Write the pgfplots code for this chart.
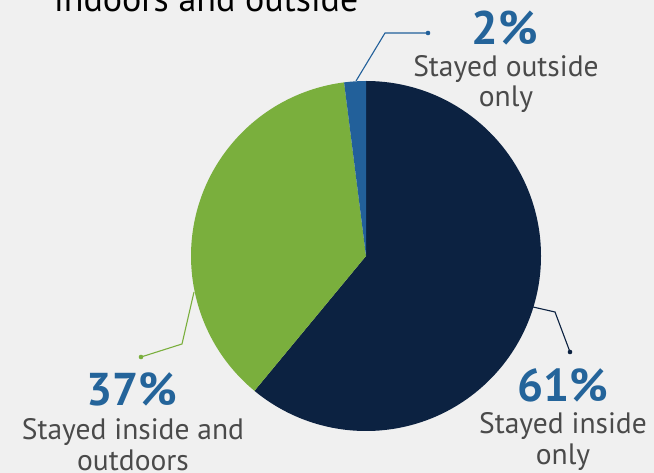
\documentclass[border=0pt]{standalone}
\usepackage{pgfplots}
\pgfplotsset{compat=1.18}
\usepackage{fontspec}
\setmainfont{PT Sans}

\definecolor{bg}{HTML}{F0F0F0}
\definecolor{navy}{HTML}{0C2241}
\definecolor{leaf}{HTML}{7AAF3D}
\definecolor{steel}{HTML}{22609A}
\definecolor{pct}{HTML}{24649A}
\definecolor{txt}{HTML}{4A4A4A}

% shares (percent), clockwise from the top
\def\inside{61}
\def\both{37}
\def\outside{2}

\pgfmathsetmacro\aA{90-3.6*\inside}
\pgfmathsetmacro\aB{\aA-3.6*\both}
\pgfmathsetmacro\aC{\aB-3.6*\outside}

\begin{document}
\begin{tikzpicture}
\useasboundingbox (0,0) rectangle (654bp,473bp);
\fill[bg] (0,0) rectangle (654bp,473bp);
\begin{axis}[
    at={(0,0)}, anchor=south west,
    width=654bp, height=473bp, scale only axis,
    xmin=0, xmax=654, ymin=0, ymax=473,
    hide axis, clip=false,
    ]
    % slices
    \fill[navy] (axis cs:366,217) -- ++(90:175bp)
        arc[start angle=90, end angle=\aA, radius=175bp] -- cycle;
    \fill[leaf] (axis cs:366,217) -- ++(\aA:175bp)
        arc[start angle=\aA, end angle=\aB, radius=175bp] -- cycle;
    \fill[steel] (axis cs:366,217) -- ++(\aB:175bp)
        arc[start angle=\aB, end angle=\aC, radius=175bp] -- cycle;

    % leader lines
    \draw[steel, line width=1.1bp] (axis cs:356,392) -- (axis cs:385,440) -- (axis cs:428,440);
    \fill[steel] (axis cs:428,440) circle[radius=2.3bp];
    \draw[leaf, line width=1.1bp] (axis cs:194,181) -- (axis cs:182,129) -- (axis cs:141,116);
    \fill[leaf] (axis cs:141,116) circle[radius=2.3bp];
    \draw[navy, line width=1.1bp] (axis cs:533,166) -- (axis cs:555,161) -- (axis cs:570,121);
    \fill[navy] (axis cs:570,121) circle[radius=2.3bp];

    % title (first line falls outside the picture)
    \node[anchor=base west, font=\fontsize{36bp}{40bp}\selectfont, inner sep=0pt]
        at (axis cs:54,461) {indoors and outside};

    % labels
    \node[anchor=base, text=pct, font=\fontsize{47bp}{50bp}\selectfont\bfseries, inner sep=0pt]
        at (axis cs:505,428) {\outside\%};
    \node[anchor=base, text=txt, font=\fontsize{29.5bp}{30bp}\selectfont, inner sep=0pt]
        at (axis cs:506,396) {Stayed outside};
    \node[anchor=base, text=txt, font=\fontsize{29.5bp}{30bp}\selectfont, inner sep=0pt]
        at (axis cs:506,366) {only};

    \node[anchor=base, text=pct, font=\fontsize{46bp}{50bp}\selectfont\bfseries, inner sep=0pt]
        at (axis cs:132,67) {\both\%};
    \node[anchor=base, text=txt, font=\fontsize{29.5bp}{30bp}\selectfont, inner sep=0pt]
        at (axis cs:133,33) {Stayed inside and};
    \node[anchor=base, text=txt, font=\fontsize{29.5bp}{30bp}\selectfont, inner sep=0pt]
        at (axis cs:133,3) {outdoors};

    \node[anchor=base, text=pct, font=\fontsize{46bp}{50bp}\selectfont\bfseries, inner sep=0pt]
        at (axis cs:563,71) {\inside\%};
    \node[anchor=base, text=txt, font=\fontsize{29.5bp}{30bp}\selectfont, inner sep=0pt]
        at (axis cs:563,39) {Stayed inside};
    \node[anchor=base, text=txt, font=\fontsize{29.5bp}{30bp}\selectfont, inner sep=0pt]
        at (axis cs:563,9) {only};
\end{axis}
\end{tikzpicture}
\end{document}
